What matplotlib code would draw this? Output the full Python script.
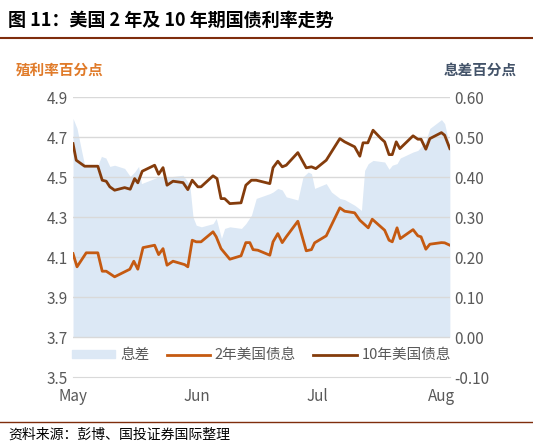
import matplotlib
matplotlib.use("Agg")
import matplotlib.pyplot as plt
from matplotlib.lines import Line2D

plt.rcParams['font.family'] = ['Noto Sans CJK SC', 'DejaVu Sans']

spread_days = [0,1,2.1,2.9,6.2,7.1,8.2,9.2,10.4,12.9,14.3,15.4,16.4,17.1,20.4,21.4,24.2,27.5,28.3,29.2,30,30.8,32.1,35,35.8,37.1,37.9,39.2,42.1,43.2,44.6,45.8,49.2,50,51.2,52.3,53.3,56.2,57.5,58.8,59.6,60.4,63.3,64.6,66.7,67.9,70.4,72.1,72.9,73.8,75,77.9,79,79.8,81,81.8,85,86.2,87,88.2,89.2,92.1,92.9,94.2]
spread = [0.547,0.522,0.468,0.43,0.43,0.452,0.448,0.427,0.43,0.422,0.402,0.413,0.427,0.384,0.397,0.401,0.401,0.405,0.394,0.38,0.3,0.28,0.276,0.284,0.297,0.247,0.272,0.276,0.272,0.284,0.305,0.347,0.359,0.363,0.372,0.368,0.351,0.343,0.401,0.413,0.409,0.372,0.384,0.363,0.347,0.344,0.33,0.317,0.417,0.434,0.442,0.438,0.42,0.43,0.434,0.448,0.463,0.467,0.476,0.492,0.522,0.544,0.534,0.476]

y10_days = [0,0.8,2.9,6.2,7.3,8.3,9.2,10.4,12.9,14.3,15.4,16.2,17.3,20.4,21.4,22.5,23.5,25,27.5,28.7,29.8,31.2,32,35,36,37,37.9,39.2,42,43.2,44.6,45.8,49.2,50,51.2,52.3,53.3,56.2,58.3,59.6,60.7,63.3,66.7,67.9,70.4,71.7,72.5,73.7,75,77,77.9,79,79.8,80.8,81.7,85,86.2,87,88.2,89.2,92.1,92.9,94.2]
y10 = [4.668,4.585,4.555,4.555,4.485,4.48,4.452,4.435,4.448,4.44,4.493,4.472,4.53,4.56,4.515,4.548,4.46,4.48,4.473,4.438,4.485,4.452,4.452,4.507,4.493,4.393,4.393,4.368,4.372,4.46,4.485,4.485,4.468,4.548,4.58,4.552,4.56,4.623,4.547,4.552,4.543,4.585,4.693,4.677,4.652,4.605,4.672,4.672,4.735,4.693,4.677,4.613,4.613,4.677,4.643,4.707,4.69,4.69,4.64,4.693,4.723,4.71,4.643]

y2_days = [0,1,3.3,6.2,7.3,8.3,10.4,14.2,15.2,16.2,17.5,20.4,21.4,22.5,23.5,25,27.9,28.7,29.8,30.8,32,35,35.8,37,39.2,42,43.2,44.2,45,46.2,49.2,50,51.2,52.3,53.3,56.2,58.3,59.6,60.4,63.3,66.7,67.9,70.4,71.7,73.8,74.8,77.9,79,79.8,81,81.8,85,86.2,87,88.2,89.2,92.1,92.9,94.2]
y2 = [4.118,4.052,4.122,4.122,4.03,4.03,4.002,4.04,4.08,4.04,4.148,4.16,4.113,4.143,4.06,4.08,4.063,4.052,4.185,4.177,4.177,4.227,4.202,4.143,4.09,4.107,4.173,4.173,4.138,4.135,4.11,4.177,4.218,4.173,4.202,4.28,4.132,4.138,4.172,4.207,4.347,4.33,4.322,4.285,4.247,4.29,4.235,4.185,4.177,4.247,4.193,4.238,4.207,4.202,4.14,4.165,4.173,4.172,4.16]

month_pos = [0, 31, 61, 92]
month_labels = ['May', 'Jun', 'Jul', 'Aug']
left_ticks = [3.5, 3.7, 3.9, 4.1, 4.3, 4.5, 4.7, 4.9]
right_ticks = [-0.10, 0.00, 0.10, 0.20, 0.30, 0.40, 0.50, 0.60]

C_SPREAD = '#dce8f5'
C_2Y = '#c55a11'
C_10Y = '#843c0c'
GRAY = '#595959'

fig = plt.figure(figsize=(5.33, 4.48), dpi=100)
ax = fig.add_axes([0.137, 0.158, 0.707, 0.625])
ax2 = ax.twinx()
ax.set_zorder(2); ax.patch.set_visible(False)

ax2.fill_between(spread_days, 0, spread, color=C_SPREAD, lw=0)
ax2.set_ylim(-0.1, 0.6)
ax2.set_yticks(right_ticks)
ax2.set_yticklabels([f'{v:.2f}' for v in right_ticks], color=GRAY, fontsize=11)

ax.plot(y2_days, y2, color=C_2Y, lw=2)
ax.plot(y10_days, y10, color=C_10Y, lw=2)
ax.set_ylim(3.5, 4.9)
ax.set_yticks(left_ticks)
ax.set_yticklabels([f'{v:.1f}' for v in left_ticks], color=GRAY, fontsize=11)
ax.set_xlim(0, 94.2)
ax.set_xticks(month_pos)
ax.set_xticklabels(month_labels, color=GRAY, fontsize=11)
for v in left_ticks[1:]:
    ax.axhline(v, color='#d9d9d9', lw=1, zorder=0)

for a in (ax, ax2):
    for s in a.spines.values():
        s.set_visible(False)
    a.tick_params(length=0)
ax.spines['bottom'].set_visible(True)
ax.spines['bottom'].set_color('#d9d9d9')
ax.tick_params(axis='x', pad=8)

handles = [plt.Rectangle((0, 0), 1, 1, color=C_SPREAD),
           Line2D([], [], color=C_2Y, lw=2),
           Line2D([], [], color=C_10Y, lw=2)]
ax.legend(handles, ['息差', '2年美国债息', '10年美国债息'], ncol=3, loc='center',
          bbox_to_anchor=(0.5, 0.078), frameon=False, fontsize=10.5,
          labelcolor=GRAY, handlelength=3.0, handleheight=0.5, handletextpad=0.3,
          columnspacing=1.2)

fig.text(0.015, 0.955, '图 11：美国 2 年及 10 年期国债利率走势', fontsize=13, fontweight='bold', va='center')
fig.add_artist(Line2D([0.0, 1.0], [0.915, 0.915], color='#7f2d0c', lw=1.5))
fig.text(0.03, 0.845, '殖利率百分点', fontsize=10.5, color='#e07b2a', fontweight='bold', va='center')
fig.text(0.97, 0.845, '息差百分点', fontsize=10.5, color='#44546a', fontweight='bold', va='center', ha='right')
fig.add_artist(Line2D([0.0, 1.0], [0.058, 0.058], color='#7f2d0c', lw=1))
fig.text(0.015, 0.03, '资料来源：彭博、国投证券国际整理', fontsize=10, style='italic', va='center')

fig.savefig('out.png', dpi=100)
